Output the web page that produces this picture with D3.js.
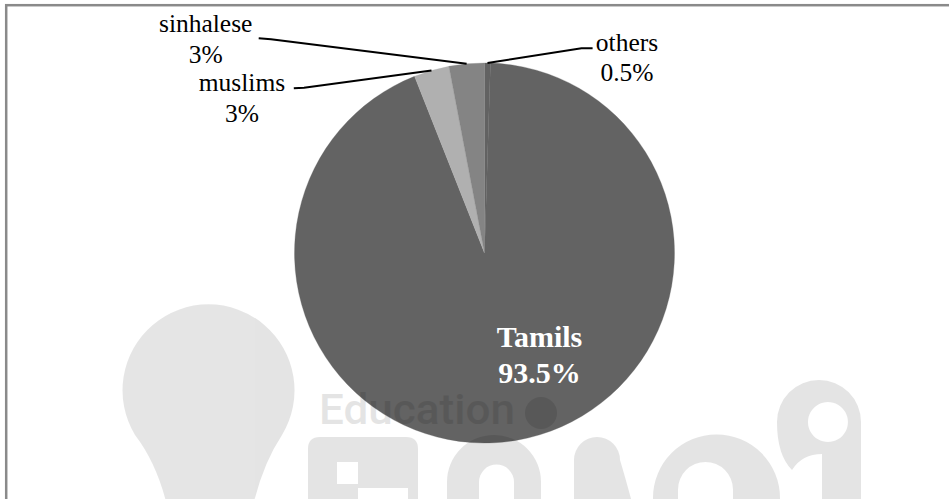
<!DOCTYPE html>
<html>
<head>
<meta charset="utf-8">
<script src="https://cdn.jsdelivr.net/npm/d3@7"></script>
<style>
  html, body { margin: 0; padding: 0; background: #fff; }
  svg { display: block; }
</style>
</head>
<body>
<svg id="chart" width="949" height="499"></svg>
<script>
// ---- data ----
const categories = ["others", "Tamils", "muslims", "sinhalese"];
const values = [0.5, 93.5, 3, 3];
const valueLabels = ["0.5%", "93.5%", "3%", "3%"];
const colors = ["#626262", "#636363", "#b0b0b0", "#848484"];

const W = 949, H = 499;
const svg = d3.select("#chart");

// frame
svg.append("rect")
  .attr("x", 6.2).attr("y", 5.2)
  .attr("width", 1000).attr("height", 1000)
  .attr("fill", "none").attr("stroke", "#8a8a8a").attr("stroke-width", 2.5);

const cx = 484.5, cy = 253, R = 190;
const g = svg.append("g").attr("transform", `translate(${cx},${cy})`);

const pie = d3.pie().sort(null).value((d, i) => values[i]).startAngle(0).endAngle(2 * Math.PI);
const arcs = pie(categories);
const arc = d3.arc().innerRadius(0).outerRadius(R);

g.selectAll("path.slice").data(arcs).join("path")
  .attr("class", "slice")
  .attr("d", arc)
  .attr("fill", (d, i) => colors[i])
  .attr("stroke", (d, i) => colors[i])
  .attr("stroke-width", 0.3);

// label layout (positions only)
const layout = {
  others:    { x: 627, y1: 50.5, y2: 80.5, knee: [581.5, 48.3], end: [592.6, 48.3] },
  Tamils:    { x: 539.5, y1: 347, y2: 383, inside: true },
  muslims:   { x: 242, y1: 91,  y2: 122, knee: [304, 87.7],  end: [293.8, 88.3] },
  sinhalese: { x: 205.7, y1: 31.5, y2: 62.5, knee: [271, 39.3], end: [258.7, 38.3] }
};

arcs.forEach((a, i) => {
  const name = categories[i];
  const L = layout[name];
  if (!L.inside) {
    const mid = (a.startAngle + a.endAngle) / 2;
    const px = cx + R * Math.sin(mid), py = cy - R * Math.cos(mid);
    svg.append("path")
      .attr("d", d3.line()([[px, py], L.knee, L.end]))
      .attr("fill", "none").attr("stroke", "#000").attr("stroke-width", 2);
  }
  const t = svg.append("text")
    .attr("text-anchor", "middle")
    .attr("font-family", "'Liberation Serif', 'Times New Roman', serif")
    .attr("font-size", L.inside ? 30 : 25.5)
    .attr("font-weight", L.inside ? "bold" : "normal")
    .attr("fill", L.inside ? "#fff" : "#000");
  t.append("tspan").attr("x", L.x).attr("y", L.y1).text(name);
  t.append("tspan").attr("x", L.x).attr("y", L.y2).text(valueLabels[i]);
});

// watermark (faint overlay)
const wm = svg.append("g").attr("opacity", 0.1).attr("fill", "#000");
wm.append("path")
  .attr("d", "M135,435 A86,86 0 1 1 282,435 Q262,465 252,510 L168,510 Q158,465 135,435 Z");
wm.append("text")
  .attr("x", 319).attr("y", 424)
  .attr("font-family", "Roboto, 'Open Sans', sans-serif")
  .attr("font-weight", 500).attr("font-size", 43)
  .attr("textLength", 196).attr("lengthAdjust", "spacingAndGlyphs")
  .text("Education");
wm.append("circle").attr("cx", 541).attr("cy", 413).attr("r", 16);
wm.append("path").attr("fill-rule", "evenodd")
  .attr("d", "M308,510 V449 Q308,437 320,437 H406 Q418,437 418,449 V510 Z M337,462 H358 V484 H337 Z M358,488 H408 V510 H358 Z");
wm.append("path").attr("fill-rule", "evenodd")
  .attr("d", "M447,510 V482 A47,47 0 0 1 541,482 V510 Z M479,510 V482 A17.5,17.5 0 0 1 514,482 V510 Z");
wm.append("path")
  .attr("d", "M574,510 V460 A23,23 0 0 1 620,460 Q626,480 634,510 Z");
wm.append("path").attr("fill-rule", "evenodd")
  .attr("d", "M653,510 V498 A63.5,63.5 0 0 1 780,498 V510 Z M678,510 V489.5 A27.5,27.5 0 0 1 733,489.5 V510 Z");
wm.append("path").attr("fill-rule", "evenodd")
  .attr("d", "M792,470 Q777,455 777,422 A42,42 0 0 1 861,422 V510 H822 V454 Q802,454 792,470 Z M828,402 A20,20 0 1 1 827.9,402 Z");
</script>
</body>
</html>
